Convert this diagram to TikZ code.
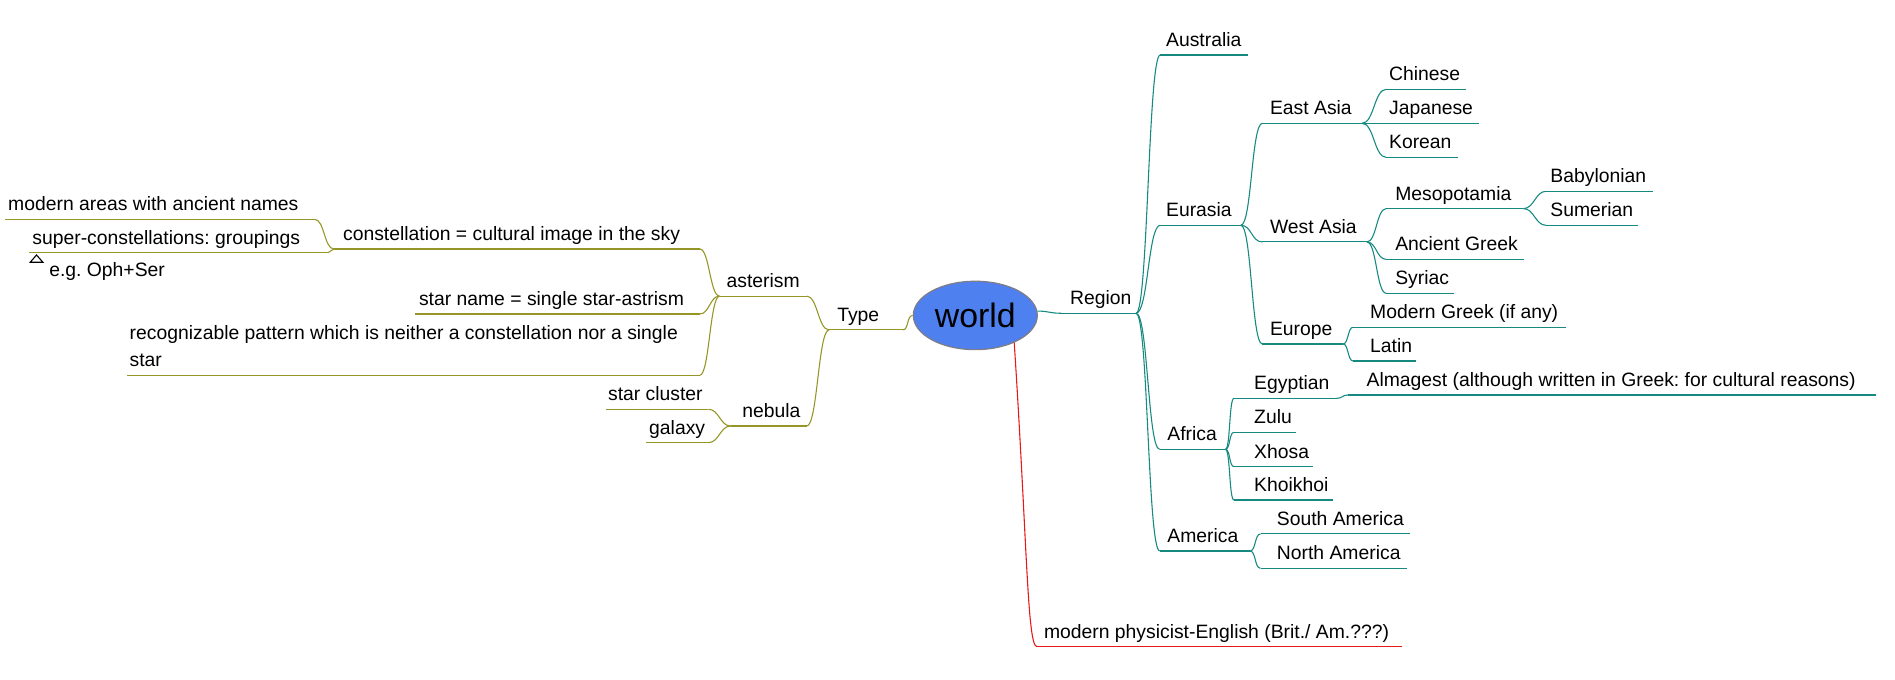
\documentclass[tikz,border=0pt]{standalone}
\usepackage{fontspec}
\setmainfont{Liberation Sans}
\usetikzlibrary{shapes.geometric}
\frenchspacing
\definecolor{tealc}{RGB}{22,138,128}
\definecolor{olivec}{RGB}{150,150,40}
\definecolor{redc}{RGB}{230,25,25}
\definecolor{worldfill}{RGB}{78,128,240}
\definecolor{worldline}{RGB}{125,125,135}
\newcommand\mmtopic[7]{%
  \coordinate (#1-l) at (#2,#4);
  \coordinate (#1-r) at (#3,#4);
  \node[lbl] (#1) at (#5,#4-7) {#6};
  \draw[#7] (#1-l) -- (#1-r);}
\newcommand\mmconn[4]{\draw[#1] (#2) .. controls +(#4,0) and +(-#4,0) .. (#3);}
\begin{document}
\begin{tikzpicture}[x=1pt,y=-1pt,
  lbl/.style={anchor=base west, inner sep=0pt, font=\fontsize{16}{22}\selectfont},
  tline/.style={draw=tealc, line width=0.9pt},
  oline/.style={draw=olivec, line width=0.9pt},
  rline/.style={draw=redc, line width=0.9pt}]
\useasboundingbox (0,0) rectangle (1568,562);

% right side
\mmtopic{region}{878}{940}{259.2}{885.3}{Region}{tline}
\mmtopic{australia}{960}{1032.4}{45.5}{964.7}{Australia}{tline}
\mmtopic{eurasia}{960}{1026.7}{186.4}{964.7}{Eurasia}{tline}
\mmtopic{africa}{959.6}{1014}{371.8}{965.8}{Africa}{tline}
\mmtopic{america}{959.6}{1034.3}{455.9}{965.8}{America}{tline}
\mmtopic{eastasia}{1044.5}{1127}{102}{1050.7}{East Asia}{tline}
\mmtopic{westasia}{1044.5}{1131}{200.2}{1050.7}{West Asia}{tline}
\mmtopic{europe}{1044.5}{1111.5}{284.6}{1050.7}{Europe}{tline}
\mmtopic{chinese}{1147}{1213}{73.9}{1149.2}{Chinese}{tline}
\mmtopic{japanese}{1147}{1224}{102}{1149.2}{Japanese}{tline}
\mmtopic{korean}{1147}{1206}{130.2}{1149.2}{Korean}{tline}
\mmtopic{meso}{1147}{1260.5}{172.6}{1154.3}{Mesopotamia}{tline}
\mmtopic{ancgreek}{1147}{1261}{214.6}{1154.3}{Ancient Greek}{tline}
\mmtopic{syriac}{1147}{1203}{242.7}{1154.3}{Syriac}{tline}
\mmtopic{babylonian}{1279.3}{1367.4}{158.3}{1282.7}{Babylonian}{tline}
\mmtopic{sumerian}{1279.3}{1355.6}{186.4}{1282.7}{Sumerian}{tline}
\mmtopic{modgreek}{1119.4}{1296}{270.8}{1133.5}{Modern Greek (if any)}{tline}
\mmtopic{latin}{1119.4}{1172}{298.7}{1133.5}{Latin}{tline}
\mmtopic{egyptian}{1021}{1106}{329.6}{1037.6}{Egyptian}{tline}
\mmtopic{almagest}{1115.5}{1552}{326.8}{1130.6}{Almagest (although written in Greek: for cultural reasons)}{tline}
\mmtopic{zulu}{1021}{1072.5}{357.7}{1037.6}{Zulu}{tline}
\mmtopic{xhosa}{1021}{1086.8}{386.1}{1037.6}{Xhosa}{tline}
\mmtopic{khoikhoi}{1021}{1102.8}{413.7}{1037.6}{Khoikhoi}{tline}
\mmtopic{southam}{1043}{1166.5}{441.8}{1056.4}{South America}{tline}
\mmtopic{northam}{1043}{1164.6}{470.2}{1056.4}{North America}{tline}
\mmtopic{physicist}{858}{1160.4}{535}{863.7}{modern physicist-English (Brit./ Am.???)}{rline}

% left side
\mmtopic{type}{686}{747}{273}{692.6}{Type}{oline}
\mmtopic{asterism}{595.4}{667.5}{245}{601}{asterism}{oline}
\mmtopic{nebula}{604.7}{667.5}{352.5}{614}{nebula}{oline}
\mmtopic{constellation}{276.3}{579}{206}{283.7}{constellation = cultural image in the sky}{oline}
\mmtopic{starname}{343.6}{579}{259.8}{346.5}{star name = single star-astrism}{oline}
\mmtopic{modern}{4.4}{260.4}{181.5}{6.6}{modern areas with ancient names}{oline}
\mmtopic{super}{24}{271.5}{209}{26.6}{super-constellations: groupings}{oline}
\mmtopic{starcluster}{501.2}{586.2}{338.7}{503}{star cluster}{oline}
\mmtopic{galaxy}{534.5}{586}{366.3}{537}{galaxy}{oline}
\coordinate (recog-l) at (105.3,310.5);
\coordinate (recog-r) at (579,310.5);
\node[anchor=south west, inner sep=0pt, align=left, font=\fontsize{16}{22}\selectfont] (recog) at (107.1,303.5)
  {recognizable pattern which is neither a constellation nor a single\\star};
\draw[oline] (recog-l) -- (recog-r);
\node[lbl] (eg) at (40.6,228.8) {e.g. Oph+Ser};
\draw[line width=0.9pt] (25,217) -- (35.5,217) -- (30.2,211) -- cycle;

% central topic
\node[ellipse, draw=worldline, line width=1pt, fill=worldfill, minimum width=102.6pt, minimum height=56.6pt, inner sep=0pt,
  font=\fontsize{28}{30}\selectfont] (world) at (807,261) {world};

% connectors right
\draw[tline] (world.4) .. controls +(10,0) and +(-10,0) .. (region-l);
\mmconn{tline}{region-r}{australia-l}{10}
\mmconn{tline}{region-r}{eurasia-l}{10}
\mmconn{tline}{region-r}{africa-l}{10}
\mmconn{tline}{region-r}{america-l}{10}
\mmconn{tline}{eurasia-r}{eastasia-l}{9}
\mmconn{tline}{eurasia-r}{westasia-l}{9}
\mmconn{tline}{eurasia-r}{europe-l}{9}
\mmconn{tline}{eastasia-r}{chinese-l}{10}
\mmconn{tline}{eastasia-r}{japanese-l}{10}
\mmconn{tline}{eastasia-r}{korean-l}{10}
\mmconn{tline}{westasia-r}{meso-l}{8}
\mmconn{tline}{westasia-r}{ancgreek-l}{8}
\mmconn{tline}{westasia-r}{syriac-l}{8}
\mmconn{tline}{meso-r}{babylonian-l}{9}
\mmconn{tline}{meso-r}{sumerian-l}{9}
\mmconn{tline}{europe-r}{modgreek-l}{4}
\mmconn{tline}{europe-r}{latin-l}{4}
\mmconn{tline}{africa-r}{egyptian-l}{4}
\mmconn{tline}{africa-r}{zulu-l}{4}
\mmconn{tline}{africa-r}{xhosa-l}{4}
\mmconn{tline}{africa-r}{khoikhoi-l}{4}
\mmconn{tline}{egyptian-r}{almagest-l}{5}
\mmconn{tline}{america-r}{southam-l}{5}
\mmconn{tline}{america-r}{northam-l}{5}
\draw[rline] (world.-35) .. controls (850,450) and (850,535) .. (physicist-l);

% connectors left
\draw[oline] (world.west) .. controls +(-5,0) and +(5,0) .. (type-r);
\mmconn{oline}{type-l}{asterism-r}{-9}
\mmconn{oline}{type-l}{nebula-r}{-9}
\mmconn{oline}{asterism-l}{constellation-r}{-8}
\mmconn{oline}{asterism-l}{starname-r}{-8}
\mmconn{oline}{asterism-l}{recog-r}{-8}
\mmconn{oline}{nebula-l}{starcluster-r}{-9}
\mmconn{oline}{nebula-l}{galaxy-r}{-9}
\mmconn{oline}{constellation-l}{modern-r}{-8}
\mmconn{oline}{constellation-l}{super-r}{-3}
\end{tikzpicture}
\end{document}
